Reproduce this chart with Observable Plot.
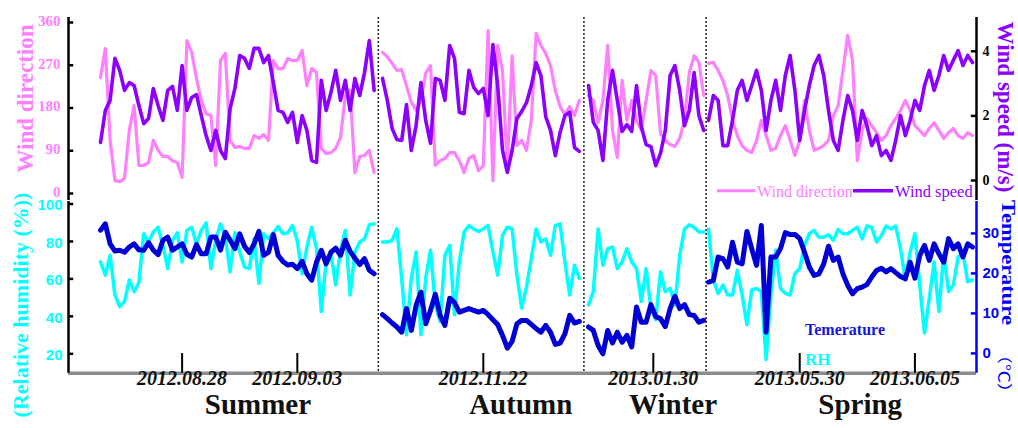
<!DOCTYPE html>
<html><head><meta charset="utf-8">
<script src="https://cdn.jsdelivr.net/npm/d3@7"></script>
<script src="https://cdn.jsdelivr.net/npm/@observablehq/plot@0.6"></script>
<style>
body{margin:0;background:#fff;}
#chart{position:relative;width:1018px;height:428px;overflow:hidden;background:#fff;}
#chart svg{position:absolute;left:0;overflow:visible;}
</style></head><body><div id="chart"></div>
<script>
// ---------- categories / time ----------
const seasons = ["Summer", "Autumn", "Winter", "Spring"];
const seasonStart = ["2012-08-23T18:00Z", "2012-11-16T18:00Z", "2013-01-26T15:00Z", "2013-05-25T06:00Z"];
const seasonAxisStart = [1.667, 16.354, 27.083, 33.333]; // start of each season on the broken time axis (days)
const stepDays = 0.25; // 6-hourly samples
const seasonLabelDay = [8.2, 7.2, 4.4, 7.9]; // days after season start where the season name is centred
const tickDates = ["2012-08-28T00:00Z", "2012-09-03T00:00Z", "2012-11-22T00:00Z", "2013-01-30T00:00Z", "2013-05-30T00:00Z", "2013-06-05T00:00Z"];
const tickSeason = [0, 0, 1, 2, 3, 3];
const tickLabels = ["2012.08.28", "2012.09.03", "2012.11.22", "2013.01.30", "2013.05.30", "2013.06.05"];
const wdTicks = [0, 90, 180, 270, 360];
const wsTicks = [0, 2, 4];
const rhTicks = [20, 40, 60, 80, 100];
const tTicks = [0, 10, 20, 30];

// ---------- series values ----------
const windDir = [
  [244,305,112,27,25,32,133,185,59,59,65,112,91,78,78,69,65,34,322,297,242,196,168,164,59,280,295,112,97,99,95,95,122,116,124,112,280,263,263,284,280,280,301,227,263,255,95,84,86,95,118,206,217,44,78,80,91,44],
  [297,288,274,259,261,227,192,175,196,253,269,59,69,74,86,86,69,44,74,80,48,59,343,27,312,259,53,290,101,112,91,154,337,312,295,269,217,183,166,183,164,196],
  [206,196,149,196,312,133,76,238,154,196,154,133,196,259,248,126,112,103,99,116,154,255,290,276,206],
  [274,276,259,238,206,154,122,101,91,86,112,154,122,91,95,122,143,112,80,112,196,133,91,95,101,112,164,185,259,333,280,69,133,158,143,128,112,122,143,158,175,196,175,143,133,122,137,149,133,116,128,137,122,116,128,122]
];
const windSpeed = [
  [1.18,2.17,2.48,3.78,3.41,2.79,3.03,2.94,2.32,1.76,1.92,2.85,2.32,1.86,2.79,2.91,2.17,3.56,2.17,2.57,2.66,2.01,1.39,0.93,1.55,0.93,0.68,2.23,2.85,3.87,3.78,3.47,4.09,4.09,3.65,3.87,3.03,2.17,2.11,1.80,2.11,1.18,2.01,1.55,0.62,0.56,3.10,2.17,2.72,3.41,2.48,3.10,2.17,3.16,2.63,3.34,4.33,2.79],
  [3.16,2.48,1.61,1.27,1.24,2.35,0.93,1.70,3.03,1.86,1.15,3.16,3.10,2.48,4.18,3.78,2.11,2.07,3.41,2.88,2.69,2.85,2.01,4.21,2.94,0.93,0.25,0.93,1.92,2.14,2.41,2.94,3.65,3.25,1.98,1.55,0.77,1.49,2.01,2.11,1.02,0.90],
  [2.94,1.80,1.55,0.62,2.48,3.41,2.48,1.52,1.73,1.52,2.94,1.67,1.11,1.05,0.46,0.84,1.55,3.25,3.56,2.79,1.70,2.17,3.34,2.01,1.55],
  [1.86,2.63,2.48,1.08,1.08,1.86,2.79,3.10,2.48,2.94,3.41,2.79,1.55,2.48,3.10,2.17,3.25,3.87,2.79,1.24,2.17,2.94,3.56,3.87,3.25,2.17,1.24,0.93,1.86,2.63,2.17,1.24,2.17,1.70,1.08,1.39,0.77,0.93,0.62,1.24,2.01,1.39,1.86,2.48,2.17,2.94,3.41,2.79,3.25,3.87,3.41,3.72,4.02,3.56,3.87,3.65]
];
const relHum = [
  [69.1,62.0,72.6,51.4,45.2,47.9,59.4,53.2,58.1,84.1,79.7,85.0,87.6,77.9,65.5,80.6,84.6,69.1,85.9,87.6,78.8,85.9,89.9,65.5,80.6,89.4,82.3,63.8,84.6,74.4,66.4,65.5,81.4,57.6,84.1,81.4,84.6,88.0,84.1,84.6,88.5,80.2,62.7,77.0,87.6,76.1,42.6,69.1,73.5,56.7,75.3,85.9,51.4,74.4,79.7,81.4,88.9,89.4],
  [79.7,79.7,80.6,86.7,60.3,30.2,60.3,74.4,30.2,60.3,75.3,46.1,37.3,72.6,77.9,40.8,69.1,85.0,88.5,86.7,85.3,86.7,88.5,74.4,62.0,83.2,87.6,86.7,62.0,44.4,55.8,70.8,86.7,79.7,81.4,72.6,88.5,89.4,69.1,51.4,67.3,60.3],
  [46.1,53.2,86.7,67.3,76.1,77.0,65.5,69.1,76.1,69.1,65.5,47.9,65.5,44.4,38.2,63.8,53.2,54.9,46.1,72.6,86.7,88.9,87.6,85.0,85.0],
  [86.7,59.4,52.3,56.7,51.4,51.4,64.6,51.4,35.5,54.1,54.9,53.2,17,51.4,75.3,54.9,52.3,51.4,62.9,65.5,77.9,84.1,85.9,82.3,82.3,83.6,80.6,86.4,84.1,84.1,85.9,87.6,81.4,88.2,87.6,79.7,83.2,88.2,86.7,88.2,76.1,59.4,74.4,84.1,56.7,31.1,49.7,69.1,42.6,73.5,53.2,56.7,71.7,74.0,58.5,59.4]
];
const temperature = [
  [30.8,32.4,27.4,25.6,25.8,25.3,26.6,27.4,25.9,25.8,27.7,25.8,24.7,28.3,29.1,25.8,26.6,27.4,24.8,24.1,27.2,24.9,24.9,29.1,29.1,25.8,30.3,28.3,26.2,29.9,26.8,25.2,27.4,30.5,24.5,25.3,29.7,24.5,23.0,22.1,22.3,21.2,23.0,19.9,18.3,22.8,25.8,22.4,25.3,26.3,24.5,28.3,25.5,23.8,22.2,23.7,20.8,19.9],
  [9.7,8.7,7.6,6.6,5.3,11.2,5.75,12.0,15.3,7.4,10.75,14.8,9.5,7.0,13.8,12.7,10.3,10.75,11.2,10.75,10.3,10.75,9.7,8.4,7.2,4.5,1.3,3.0,7.4,8.25,8.25,7.25,6.2,5.3,7.0,5.3,2.25,2.6,4.9,9.5,7.6,8.0],
  [6.6,5.75,2.0,-0.1,5.75,2.6,5.3,2.8,4.5,1.6,11.6,7.8,7.8,12.2,9.2,8.7,6.7,11.2,14.3,11.2,12.2,9.7,9.5,7.8,8.25],
  [17.8,18.25,24.1,23.7,21.6,27.8,22.8,22.4,30.5,26.2,22.0,32.0,5.3,24.1,24.1,26.2,30.2,29.7,29.75,28.7,25.3,21.6,19.5,19.9,22.4,26.8,23.25,24.1,19.9,17.0,14.9,16.2,16.6,17.2,19.1,20.75,21.3,20.4,21.2,20.2,19.25,18.7,22.8,18.8,24.5,27.0,23.25,27.4,24.9,22.8,28.7,26.2,27.4,24.1,27.4,26.6]
];

// ---------- styles ----------
const colWD = "#ff80ff", colWS = "#8c00ff", colRH = "#00ffff", colT = "#0000d4", colTAxis = "#0000ff";
const serif = "'Liberation Serif','Times New Roman',serif";
const sans = "'Liberation Sans',Arial,sans-serif";

// ---------- derived tables ----------
const DAY = 864e5;
const xMax = 47.29;
const rows = (series) => series.flatMap((vals, s) => vals.map((v, i) => ({s, t: seasonAxisStart[s] + i * stepDays, v})));
const wdRows = rows(windDir), wsRows = rows(windSpeed), rhRows = rows(relHum), tRows = rows(temperature);
const seasonEnd = windDir.map((vals, s) => seasonAxisStart[s] + (Math.max(vals.length, windSpeed[s].length, relHum[s].length, temperature[s].length) - 1) * stepDays);
const separators = [0, 1, 2].map(s => (seasonEnd[s] + seasonAxisStart[s + 1]) / 2);
const xTickRows = tickDates.map((d, i) => ({t: seasonAxisStart[tickSeason[i]] + (new Date(d) - new Date(seasonStart[tickSeason[i]])) / DAY, label: tickLabels[i]}));
const seasonRows = seasons.map((name, s) => ({name, t: seasonAxisStart[s] + seasonLabelDay[s]}));

// secondary-axis mappings
const wsToWd = ws => 27.37 + 68.0 * ws, wdToWs = wd => (wd - 27.37) / 68.0;
const tToRh = t => 20.21 + 2.136 * t, rhToT = rh => (rh - 20.21) / 2.136;

const yUp = [-14.7, 370.5];
const yLow = [9.64, 101.34];

const up = Plot.plot({
  width: 1018, height: 200, marginLeft: 68, marginRight: 42, marginTop: 17, marginBottom: 0,
  style: {background: "transparent"},
  x: {domain: [0, xMax], axis: null},
  y: {domain: yUp, axis: null},
  marks: [
    Plot.ruleX(separators, {stroke: "#222", strokeWidth: 1.5, strokeDasharray: "2,2"}),
    Plot.line(wdRows, {x: "t", y: "v", z: "s", stroke: colWD, strokeWidth: 3.2, strokeLinejoin: "round"}),
    Plot.line(wsRows, {x: "t", y: d => wsToWd(d.v), z: "s", stroke: colWS, strokeWidth: 3.6, strokeLinejoin: "round"}),
    Plot.ruleX([0], {stroke: "black", strokeWidth: 2.5}),
    Plot.ruleX([xMax], {stroke: "black", strokeWidth: 2.5}),
    Plot.ruleY(wdTicks, {x1: 0, x2: 0.27, stroke: "black", strokeWidth: 2.5}),
    Plot.ruleY(wsTicks.map(wsToWd), {x1: xMax - 0.27, x2: xMax, stroke: "black", strokeWidth: 2.5}),
    Plot.axisY(wdTicks, {anchor: "left", label: null, tickSize: 0, tickPadding: 8, dy: -1.5, fill: colWD, fontFamily: serif, fontWeight: "bold", fontSize: 15}),
    Plot.axisY(wsTicks.map(wsToWd), {anchor: "right", label: null, tickSize: 0, tickPadding: 6, tickFormat: d => String(Math.round(wdToWs(d))), fill: "black", fontFamily: serif, fontWeight: "bold", fontSize: 14})
  ]
});

const low = Plot.plot({
  width: 1018, height: 233, marginLeft: 68, marginRight: 42, marginTop: 6, marginBottom: 55.3,
  style: {background: "transparent"},
  x: {domain: [0, xMax], axis: null},
  y: {domain: yLow, axis: null},
  marks: [
    Plot.ruleX(separators, {stroke: "#222", strokeWidth: 1.5, strokeDasharray: "2,2"}),
    Plot.line(rhRows, {x: "t", y: "v", z: "s", stroke: colRH, strokeWidth: 3.5, strokeLinejoin: "round"}),
    Plot.line(tRows, {x: "t", y: d => tToRh(d.v), z: "s", stroke: colT, strokeWidth: 5, strokeLinejoin: "round", strokeLinecap: "round"}),
    Plot.ruleY([yLow[0]], {stroke: "#8c8c8c", strokeWidth: 3.5}),
    Plot.ruleX([0], {stroke: "black", strokeWidth: 2.5}),
    Plot.ruleX([xMax], {stroke: colTAxis, strokeWidth: 2.5}),
    Plot.ruleY(rhTicks, {x1: 0, x2: 0.27, stroke: "black", strokeWidth: 2.5}),
    Plot.ruleY(tTicks.map(tToRh), {x1: xMax - 0.27, x2: xMax, stroke: colTAxis, strokeWidth: 2.5}),
    Plot.ruleX(xTickRows, {x: "t", y1: yLow[0], y2: yLow[0] + 10.5, stroke: "black", strokeWidth: 2}),
    Plot.axisY(rhTicks, {anchor: "left", label: null, tickSize: 0, tickPadding: 6, dy: 1.5, fill: colRH, fontFamily: sans, fontWeight: "bold", fontSize: 15}),
    Plot.axisY(tTicks.map(tToRh), {anchor: "right", label: null, tickSize: 0, tickPadding: 6, tickFormat: d => String(Math.round(rhToT(d))), fill: colTAxis, fontFamily: sans, fontWeight: "bold", fontSize: 15}),
    Plot.text(xTickRows, {x: "t", text: "label", frameAnchor: "bottom", dy: 11.5, fontFamily: serif, fontStyle: "italic", fontWeight: "bold", fontSize: 20, fill: "#111"}),
    Plot.text(seasonRows, {x: "t", text: "name", frameAnchor: "bottom", dy: 40.5, fontFamily: serif, fontWeight: "bold", fontSize: 29, fill: "#111"})
  ]
});

const chart = document.getElementById("chart");
up.style.top = "0px";
low.style.top = "195px";
chart.appendChild(up);
chart.appendChild(low);

// ---------- titles and legends ----------
const su = d3.select(up), sl = d3.select(low);
function label(sel, text, x, y, rot, opts) {
  sel.append("text").text(text)
    .attr("transform", `translate(${x},${y}) rotate(${rot})` + (opts.squeeze ? ` scale(1,${opts.squeeze})` : ""))
    .attr("text-anchor", opts.anchor || "middle")
    .attr("fill", opts.fill).attr("font-family", opts.family || serif)
    .attr("font-weight", opts.weight || "bold").attr("font-size", opts.size)
    .style("font-style", "normal");
}
label(su, "Wind direction", 33, 98.5, -90, {fill: colWD, size: 23});
label(su, "Wind speed (m/s)", 998, 107, 90, {fill: colWS, size: 23});
label(sl, "(Relative humidity (%))", 28, 305 - 195, -90, {fill: colRH, size: 22});
label(sl, "Temperature", 1002, 200 - 195, 90, {fill: colTAxis, size: 22.5, anchor: "start", squeeze: 0.82});
label(sl, "（℃）", 999, 345 - 195, 90, {fill: colTAxis, size: 19, anchor: "start", squeeze: 0.8, weight: "normal", family: "'Noto Sans CJK SC','Liberation Serif',serif"});

// upper legend
su.append("line").attr("x1", 717).attr("x2", 755).attr("y1", 190.7).attr("y2", 190.7).attr("stroke", colWD).attr("stroke-width", 3);
label(su, "Wind direction", 757, 196.5, 0, {fill: colWD, size: 16, weight: "normal", anchor: "start"});
su.append("line").attr("x1", 853).attr("x2", 893).attr("y1", 190.7).attr("y2", 190.7).attr("stroke", colWS).attr("stroke-width", 3.5);
label(su, "Wind speed", 895, 196.5, 0, {fill: colWS, size: 16.5, weight: "normal", anchor: "start"});

// lower legend
label(sl, "Temerature", 805, 335 - 195, 0, {fill: "#1515e0", size: 16, anchor: "start"});
label(sl, "RH", 805, 365 - 195, 0, {fill: colRH, size: 17, anchor: "start"});
</script></body></html>
